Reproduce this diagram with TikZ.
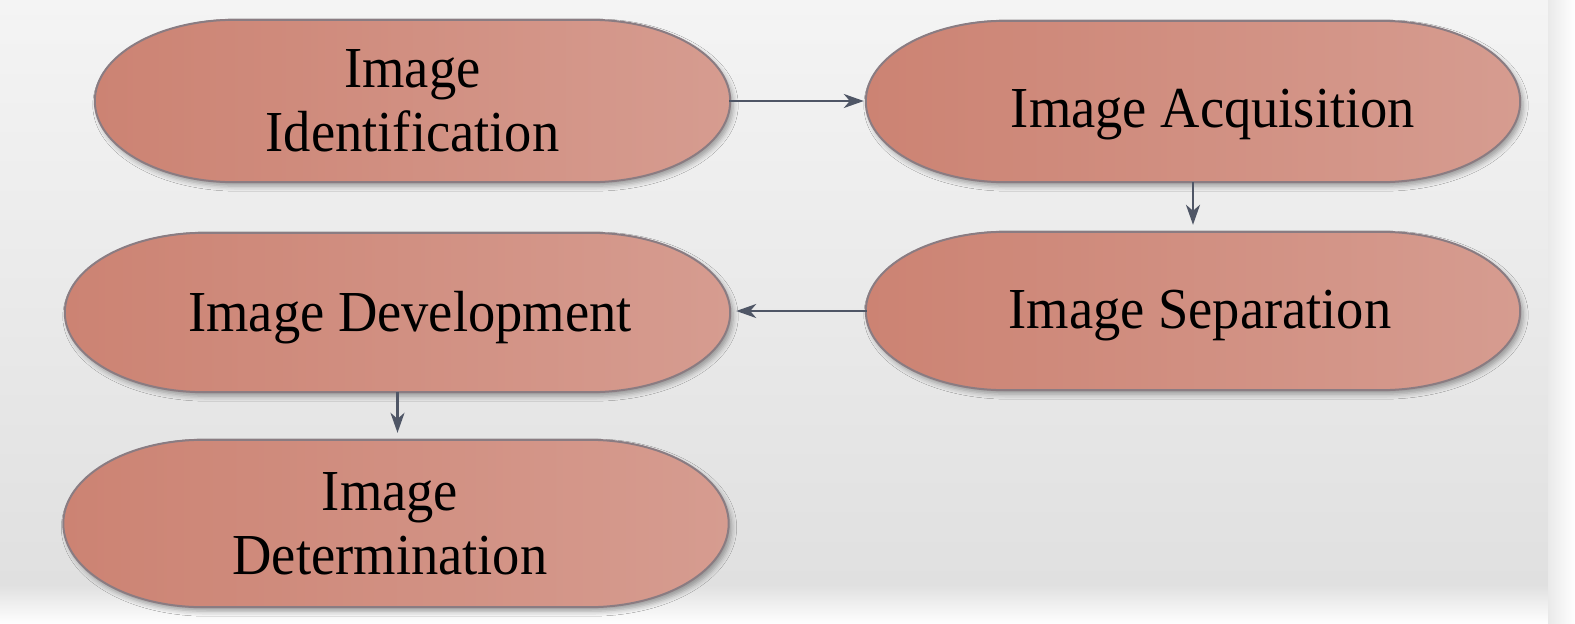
\documentclass[tikz,border=0pt]{standalone}
\usepackage{fontspec}
\setmainfont{Liberation Serif}[FakeStretch=0.94]
\usetikzlibrary{arrows.meta,calc,backgrounds,shadows.blur}
\definecolor{bgtop}{HTML}{F4F4F4}
\definecolor{bgbot}{HTML}{E0E0E0}
\definecolor{roseA}{HTML}{CC8373}
\definecolor{roseB}{HTML}{D69C90}
\definecolor{rimc}{HTML}{8A7C82}
\definecolor{arrowc}{HTML}{4F5666}
\tikzset{
  stage/.style={rectangle, draw=none, inner sep=0pt, align=center,
    font=\fontsize{58pt}{64pt}\selectfont, text=black},
  capsule/.style={left color=roseA, right color=roseB, draw=rimc, line width=2pt,
    blur shadow={shadow xshift=3pt, shadow yshift=-4pt, shadow blur radius=5pt, shadow opacity=35}},
  conn/.style={draw=arrowc, line width=2.4pt,
    -{Stealth[length=20pt, width=14pt, inset=6pt]}},
}
\newcommand\capsuleshape[2]{%
  \path[capsule] let \p1=(#1.north), \p2=(#1.south), \n1={(\y1-\y2)/2} in
    ($(#1.north west)+(#2,0)$) -- ($(#1.north east)+(-#2,0)$)
    arc[start angle=90, end angle=-90, x radius=#2pt, y radius=\n1]
    -- ($(#1.south west)+(#2,0)$)
    arc[start angle=270, end angle=90, x radius=#2pt, y radius=\n1] -- cycle;}
\begin{document}
\begin{tikzpicture}[x=1pt, y=1pt]
\useasboundingbox (0,0) rectangle (1575,-624);

\node[stage, minimum width=635pt, minimum height=162pt] (n1) at (412.5,-101) {Image\\Identification};
\node[stage, minimum width=654pt, minimum height=161pt, text height=51pt, text depth=0pt] (n2) at (1193,-101.5) {\hspace*{40pt}Image Acquisition};
\node[stage, minimum width=654pt, minimum height=158pt, text height=35pt, text depth=0pt] (n3) at (1193,-311) {\hspace*{14pt}Image Separation};
\node[stage, minimum width=665pt, minimum height=159pt, text height=38pt, text depth=0pt] (n4) at (397.5,-312.5) {\hspace*{25pt}Image Development};
\node[stage, minimum width=665pt, minimum height=167pt] (n5) at (396,-523.5) {\hspace*{-12pt}Image\\\hspace*{-12pt}Determination};

\begin{scope}[on background layer]
  \fill[white] (0,0) rectangle (1575,-624);
  \shade[top color=bgtop, bottom color=bgbot] (0,0) rectangle (1548,-585);
  \shade[top color=bgbot, bottom color=white] (0,-585) rectangle (1548,-624);
  \shade[left color=bgbot!70!white, right color=white] (1548,0) rectangle (1575,-624);
  \capsuleshape{n1}{140}
  \capsuleshape{n2}{140}
  \capsuleshape{n3}{140}
  \capsuleshape{n4}{140}
  \capsuleshape{n5}{140}
\end{scope}

\draw[conn, shorten <=-1pt, shorten >=2pt] (n1.east) -- (n1.east -| n2.west);
\draw[conn, shorten >=7pt] (n2.south) -- (n3.north);
\draw[conn, shorten <=-1pt, shorten >=6pt] (n3.west) -- (n3.west -| n4.east);
\draw[conn, shorten >=7pt] (n4.south) -- (n4.south |- n5.north);
\end{tikzpicture}
\end{document}
